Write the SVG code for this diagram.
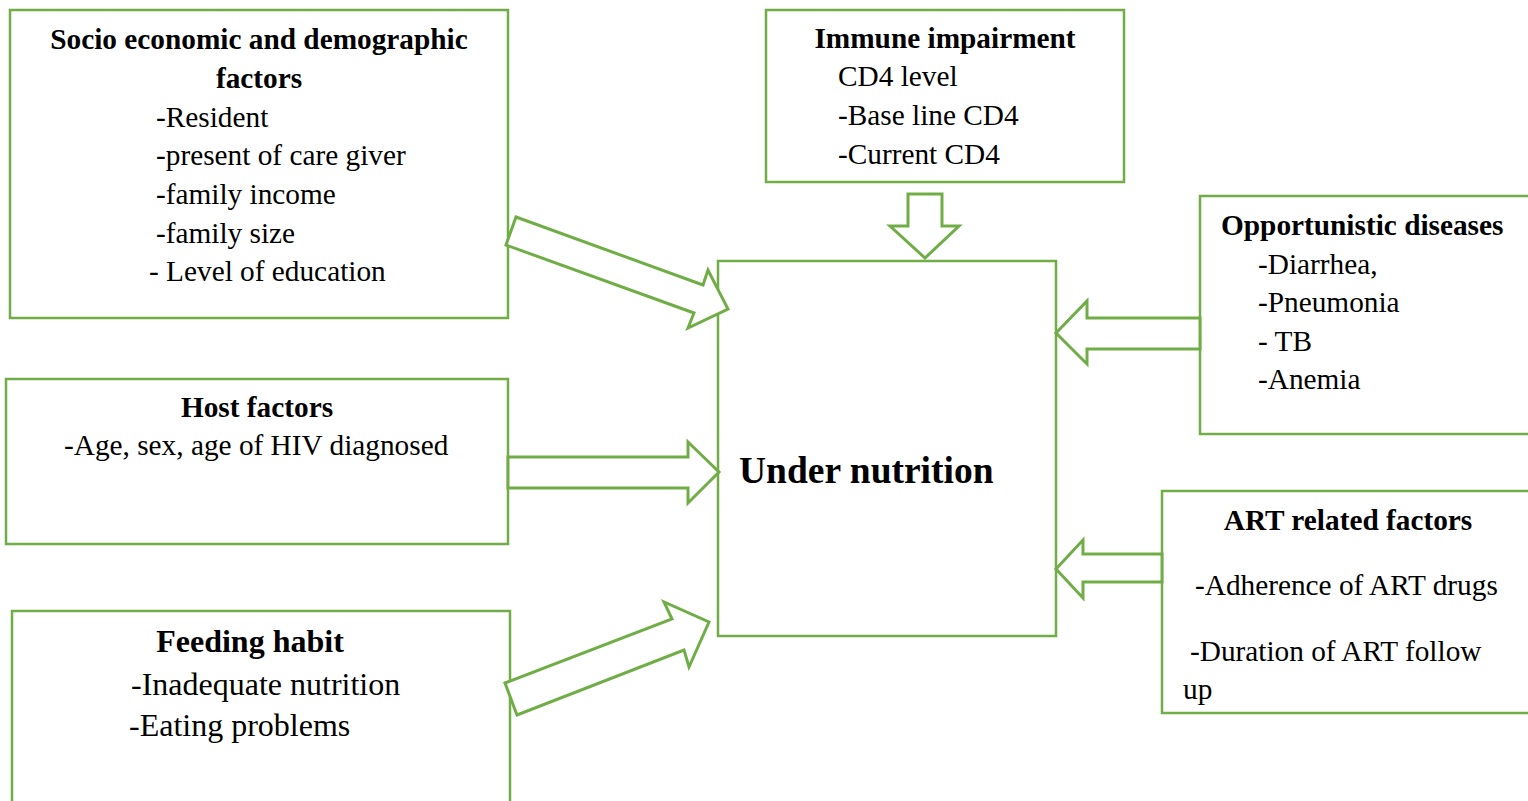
<svg xmlns="http://www.w3.org/2000/svg" width="1528" height="801" viewBox="0 0 1528 801">
<style>
.box{fill:#fff;stroke:#70AD47;stroke-width:2.5}
.arr{fill:#fff;stroke:#70AD47;stroke-width:3;stroke-linejoin:miter}
text{font-family:"Liberation Serif","Times New Roman",serif;fill:#000;font-size:29.3px}
.b{font-weight:bold}
.m{text-anchor:middle}
.f{font-size:32px}
</style>
<rect width="1528" height="801" fill="#fff"/>
<g id="socio">
<rect class="box" x="10" y="10" width="498" height="308"/>
<text class="b m" x="259" y="49">Socio economic and demographic</text>
<text class="b m" x="259" y="88">factors</text>
<text x="156" y="127">-Resident</text>
<text x="156" y="165">-present of care giver</text>
<text x="156" y="204">-family income</text>
<text x="156" y="243">-family size</text>
<text x="149" y="281">- Level of education</text>
</g>
<g id="immune">
<rect class="box" x="766" y="10" width="358" height="172"/>
<text class="b m" x="945" y="48">Immune impairment</text>
<text x="838" y="86">CD4 level</text>
<text x="838" y="125">-Base line CD4</text>
<text x="838" y="164">-Current CD4</text>
</g>
<g id="opportunistic">
<rect class="box" x="1200" y="196" width="340" height="238"/>
<text class="b" x="1221" y="235">Opportunistic diseases</text>
<text x="1258" y="274">-Diarrhea,</text>
<text x="1258" y="312">-Pneumonia</text>
<text x="1258" y="351">- TB</text>
<text x="1258" y="389">-Anemia</text>
</g>
<g id="host">
<rect class="box" x="6" y="379" width="502" height="165"/>
<text class="b m" x="257" y="417">Host factors</text>
<text x="64" y="455">-Age, sex, age of HIV diagnosed</text>
</g>
<g id="under">
<rect class="box" x="718" y="261" width="338" height="375"/>
<text class="b" x="739" y="483" style="font-size:37.5px">Under nutrition</text>
</g>
<g id="art">
<rect class="box" x="1162" y="491" width="378" height="222"/>
<text class="b m" x="1348" y="530">ART related factors</text>
<text x="1195" y="595">-Adherence of ART drugs</text>
<text x="1190" y="661">-Duration of ART follow</text>
<text x="1183" y="699">up</text>
</g>
<g id="feeding">
<rect class="box" x="12" y="611" width="498" height="200"/>
<text class="b m f" x="250" y="652">Feeding habit</text>
<text class="f" x="131" y="695">-Inadequate nutrition</text>
<text class="f" x="129" y="736">-Eating problems</text>
</g>
<g id="connectors">
<polygon class="arr" points="516,217 703,285 708,270 728,309 688,328 694,313 506,245"/>
<polygon class="arr" points="508,457 688,457 688,442 719,472 688,503 688,488 508,488"/>
<polygon class="arr" points="505,683 672,619 664,602 709,622 689,667 684,650 517,715"/>
<polygon class="arr" points="908,194 942,194 942,226 959,226 925,258 890,226 908,226"/>
<polygon class="arr" points="1200,318 1087,318 1087,301 1056,333 1087,364 1087,349 1200,349"/>
<polygon class="arr" points="1162,554 1083,554 1083,540 1056,569 1083,598 1083,582 1162,582"/>
</g>
</svg>
